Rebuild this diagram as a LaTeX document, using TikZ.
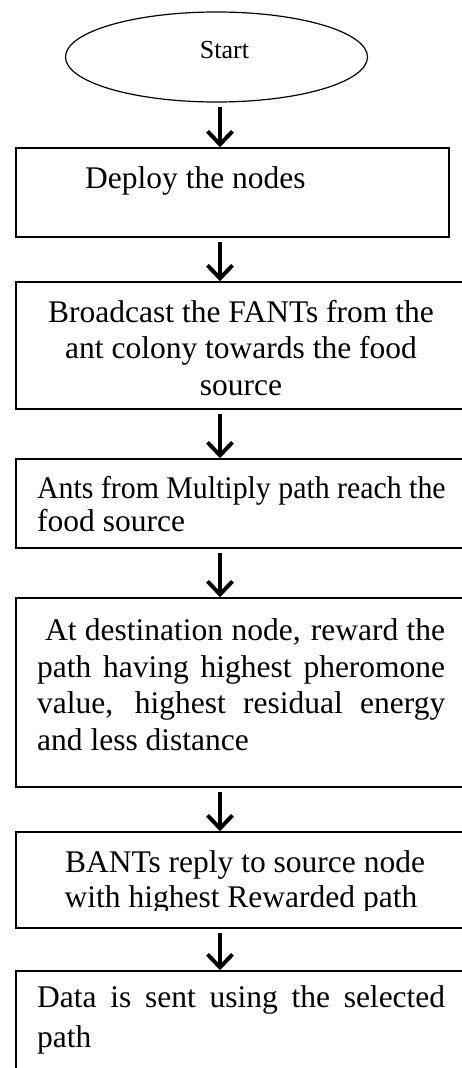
\documentclass[tikz,border=0pt]{standalone}
\usepackage{fontspec}
\setmainfont{Liberation Serif}
\usetikzlibrary{shapes.geometric,arrows.meta}

\tikzset{
  box/.style={draw=black, line width=1.6pt, rectangle, inner sep=0pt, minimum width=450pt},
  oval/.style={draw=black, line width=1.2pt, ellipse, inner sep=0pt},
  txt/.style={inner sep=0pt, font=\fontsize{31.5}{36}\selectfont},
  flow/.style={line width=4pt, -{Straight Barb[length=13pt,width=25pt]}, shorten <=4pt},
}
% a line set to a fixed width, its word spaces all equal
\newcommand{\wline}[2]{\makebox[#1][s]{\spaceskip=0pt plus 1fil\relax #2}}

\begin{document}
\begin{tikzpicture}[x=1pt, y=-1pt]
  \useasboundingbox (0,0) rectangle (462,1068);
  \clip (0,0) rectangle (462,1068);

  % terminal
  \node[oval, minimum width=302pt, minimum height=90pt] (start) at (216.5,57) {};
  \node[txt, font=\fontsize{26}{30}\selectfont, anchor=base] (starttxt) at (224.5,58) {Start};

  % process boxes
  \node[box, minimum width=433pt, minimum height=89pt] (deploy) at (232.5,192.5) {};
  \node[box, minimum height=127pt] (bcast) at (241,345.5) {};
  \node[box, minimum height=89pt]  (ants)  at (241,503.5) {};
  \node[box, minimum height=189pt] (dest)  at (241,692.5) {};
  \node[box, minimum height=96pt]  (bants) at (241,880) {};
  \node[box, minimum height=119pt] (data)  at (241,1030.5) {};

  % texts
  \node[txt, anchor=base west] (t1) at (85,188) {Deploy the nodes};

  \node[txt, anchor=base] (t2a) at (241,322) {Broadcast the FANTs from the};
  \node[txt, anchor=base] (t2b) at (241,358) {ant colony towards the food};
  \node[txt, anchor=base] (t2c) at (241,395) {source};

  \node[txt, anchor=base west] (t3a) at (37,498) {\scalebox{0.947}[1]{Ants from Multiply path reach the}};
  \node[txt, anchor=base west] (t3b) at (37,531) {food source};

  \node[txt, anchor=base west] (t4a) at (45,640) {\wline{400pt}{At destination node, reward the}};
  \node[txt, anchor=base west] (t4b) at (37,677) {\wline{408pt}{path having highest pheromone}};
  \node[txt, anchor=base west] (t4c) at (37,713) {\wline{408pt}{value, highest residual energy}};
  \node[txt, anchor=base west] (t4d) at (37,750) {and less distance};

  \node[txt, anchor=base] (t5a) at (245,872) {BANTs reply to source node};
  \begin{scope}
    \clip (16,880) rectangle (466,910);
    \node[txt, anchor=base] (t5b) at (241,907) {with highest Rewarded path};
  \end{scope}

  \node[txt, anchor=base west] (t6a) at (37,1007) {\wline{408pt}{Data is sent using the selected}};
  \node[txt, anchor=base west] (t6b) at (37,1047) {path};

  % connectors
  \coordinate (ax) at (220,0);
  \draw[flow] (start.south -| ax) -- (deploy.north -| ax);
  \draw[flow] (deploy.south -| ax) -- (bcast.north -| ax);
  \draw[flow] (bcast.south -| ax) -- (ants.north -| ax);
  \draw[flow] (ants.south -| ax) -- (dest.north -| ax);
  \draw[flow] (dest.south -| ax) -- (bants.north -| ax);
  \draw[flow] (bants.south -| ax) -- (data.north -| ax);
\end{tikzpicture}
\end{document}
